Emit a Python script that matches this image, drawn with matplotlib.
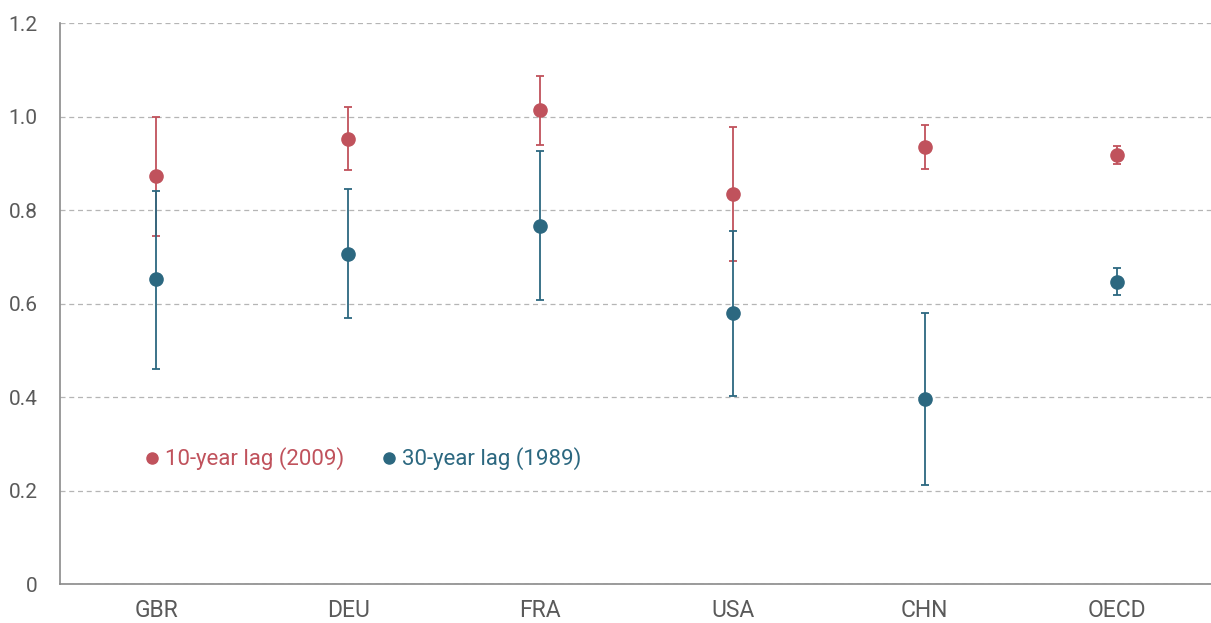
import numpy as np
import matplotlib.pyplot as plt
from matplotlib.lines import Line2D

plt.rcParams['font.family'] = ['Roboto', 'DejaVu Sans']

# data
countries = ['GBR', 'DEU', 'FRA', 'USA', 'CHN', 'OECD']

lag10 = [0.873, 0.953, 1.014, 0.834, 0.934, 0.918]
lag10_hi = [1.000, 1.020, 1.087, 0.978, 0.982, 0.938]
lag10_lo = [0.745, 0.886, 0.940, 0.690, 0.887, 0.898]

lag30 = [0.652, 0.707, 0.766, 0.579, 0.396, 0.645]
lag30_hi = [0.841, 0.845, 0.926, 0.756, 0.579, 0.677]
lag30_lo = [0.461, 0.568, 0.607, 0.402, 0.212, 0.618]

yticks = [0, 0.2, 0.4, 0.6, 0.8, 1.0, 1.2]
ytick_labels = ['0', '0.2', '0.4', '0.6', '0.8', '1.0', '1.2']

red = '#c0525c'
blue = '#2c6880'
grey = '#5a5a5a'

x = np.arange(len(countries))

fig = plt.figure(figsize=(12.11, 6.23), dpi=100)
ax = fig.add_axes([60 / 1211, 0.0626, 1153 / 1211, 0.9004])

ax.grid(axis='y', ls=(0, (4, 3)), color='#b5b5b5', lw=0.9)
ax.set_axisbelow(True)

l10 = np.array(lag10)
l30 = np.array(lag30)
ax.errorbar(x, l10, yerr=[l10 - np.array(lag10_lo), np.array(lag10_hi) - l10],
            fmt='o', color=red, ms=9.5, elinewidth=1.3, capsize=3, capthick=1.3)
ax.errorbar(x, l30, yerr=[l30 - np.array(lag30_lo), np.array(lag30_hi) - l30],
            fmt='o', color=blue, ms=9.5, elinewidth=1.3, capsize=3, capthick=1.3)

ax.set_xlim(-0.5, 5.5)
ax.set_ylim(0, 1.2)
ax.set_xticks(x)
ax.set_xticklabels(countries)
ax.set_yticks(yticks)
ax.set_yticklabels(ytick_labels)
ax.tick_params(axis='both', length=0, colors=grey)
ax.tick_params(axis='y', pad=16, labelsize=15)
ax.tick_params(axis='x', pad=11, labelsize=16.5)

for s in ['top', 'right']:
    ax.spines[s].set_visible(False)
for s in ['left', 'bottom']:
    ax.spines[s].set_color('#8a8a8a')
    ax.spines[s].set_linewidth(1.2)

handles = [Line2D([], [], ls='none', marker='o', color=red, ms=8),
           Line2D([], [], ls='none', marker='o', color=blue, ms=8)]
leg = ax.legend(handles, ['10-year lag (2009)', '30-year lag (1989)'],
                loc='center left', bbox_to_anchor=(0.051, 0.223), ncol=2,
                frameon=False, fontsize=16, handletextpad=0.0,
                columnspacing=1.4, handlelength=1.2, labelcolor=[red, blue])

fig.savefig('out.png', dpi=100)
